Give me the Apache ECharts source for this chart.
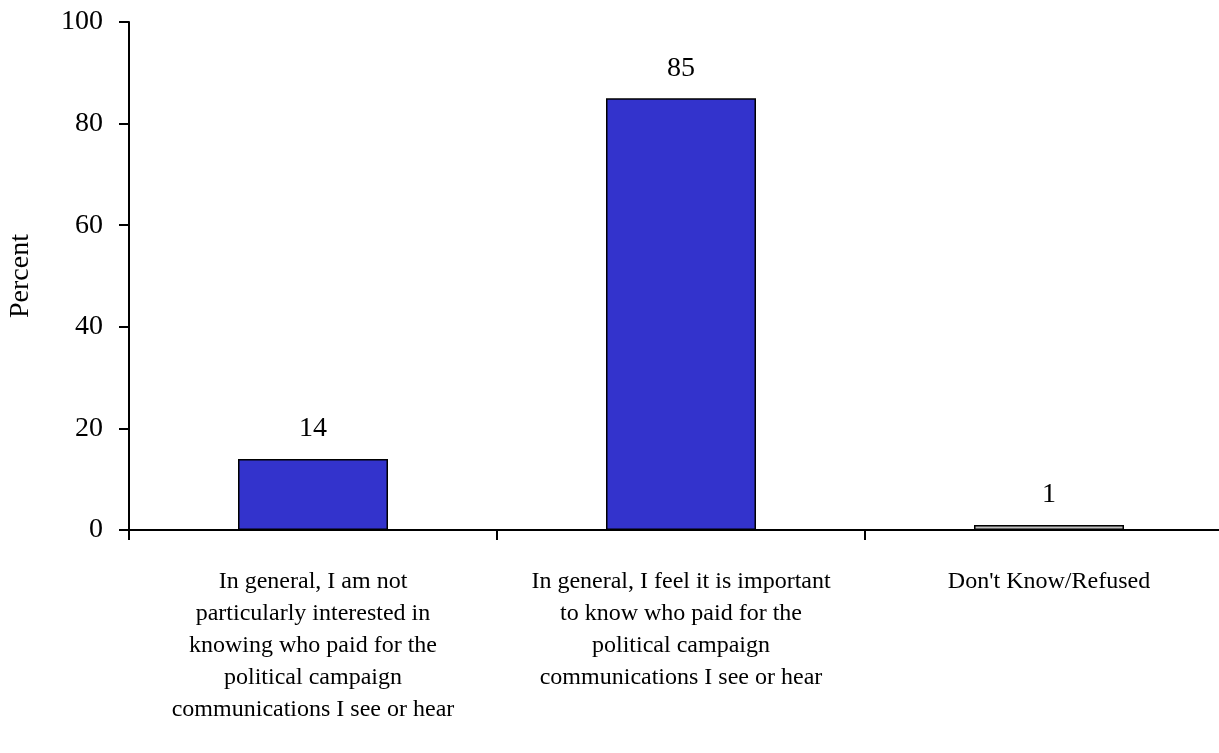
<!DOCTYPE html>
<html>
<head>
<meta charset="utf-8">
<script src="https://cdn.jsdelivr.net/npm/echarts@6/dist/echarts.min.js"></script>
<style>
html,body{margin:0;padding:0;background:#fff;overflow:hidden;}
#chart{width:1219px;height:753px;}
</style>
</head>
<body>
<div id="chart"></div>
<script>
const categories = [
  "In general, I am not\nparticularly interested in\nknowing who paid for the\npolitical campaign\ncommunications I see or hear",
  "In general, I feel it is important\nto know who paid for the\npolitical campaign\ncommunications I see or hear",
  "Don't Know/Refused"
];
const values = [14, 85, 1];
const barColors = ["#3333CC", "#3333CC", "#C0C0C0"];
const yTicks = { min: 0, max: 100, interval: 20 };
const yName = "Percent";

const font = "'Liberation Serif', 'Times New Roman', serif";
const chart = echarts.init(document.getElementById('chart'), null, { renderer: 'canvas' });
chart.setOption({
  animation: false,
  backgroundColor: '#ffffff',
  grid: { left: 129, top: 22, width: 1104, height: 508, containLabel: false, outerBoundsMode: 'none' },
  xAxis: {
    type: 'category',
    data: categories,
    axisLine: { lineStyle: { color: '#000', width: 2 } },
    axisTick: { show: true, length: 10, lineStyle: { color: '#000', width: 2 }, alignWithLabel: false },
    axisLabel: {
      interval: 0, color: '#000', fontFamily: font, fontSize: 24, lineHeight: 32, margin: 36, align: 'center',
      hideOverlap: false
    },
    splitLine: { show: false }
  },
  yAxis: {
    type: 'value',
    min: yTicks.min, max: yTicks.max, interval: yTicks.interval,
    name: yName,
    nameLocation: 'middle',
    nameGap: 94,
    nameRotate: 90,
    nameTextStyle: { color: '#000', fontFamily: font, fontSize: 28 },
    axisLine: { show: true, lineStyle: { color: '#000', width: 2 } },
    axisTick: { show: true, length: 10, lineStyle: { color: '#000', width: 2 } },
    axisLabel: { color: '#000', fontFamily: font, fontSize: 28, margin: 26 },
    splitLine: { show: false }
  },
  series: [{
    type: 'bar',
    data: values.map((v, i) => ({ value: v, itemStyle: { color: barColors[i] } })),
    barWidth: 150,
    itemStyle: { borderColor: '#000', borderWidth: 1.5 },
    label: {
      show: true, position: 'top', distance: 16,
      color: '#000', fontFamily: font, fontSize: 28
    }
  }]
});
</script>
</body>
</html>
